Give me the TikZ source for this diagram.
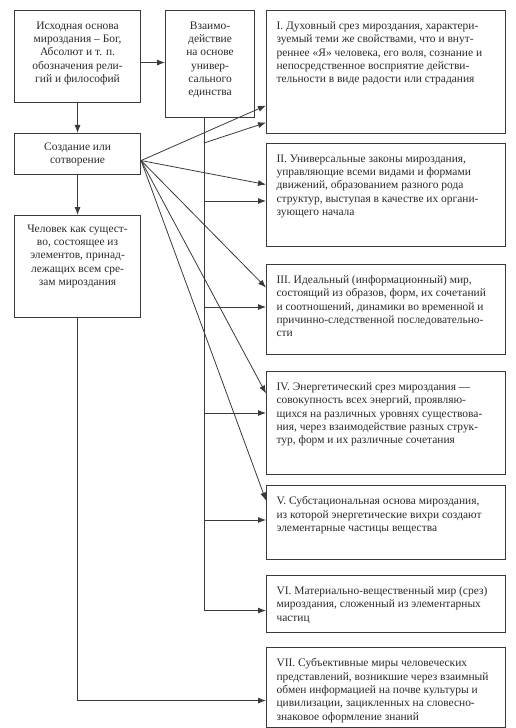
\documentclass[tikz,border=0pt]{standalone}
\usepackage{fontspec}
\setmainfont{Liberation Serif}
\usetikzlibrary{arrows.meta}
\definecolor{ln}{HTML}{3A3A3A}
\definecolor{tx}{HTML}{2A2A2A}
\newcommand\mkbox[8]{%
 \node[rbox] (#1) at (#2,#3) {\begin{minipage}[c][\dimexpr #5bp-#3bp\relax][t]{\dimexpr #4bp-#2bp\relax}\vspace*{#6}\centering\begin{minipage}[t]{\dimexpr #4bp-#2bp-20bp\relax}#7 #8\end{minipage}\end{minipage}};}
\begin{document}
\begin{tikzpicture}[x=1bp,y=-1bp,
  rbox/.style={draw=ln,line width=1.1bp,anchor=north west,inner sep=0pt,text=tx,
     font=\fontsize{11.5}{13.4}\selectfont},
  arr/.style={draw=ln,line width=0.8bp,-{Latex[length=8bp,width=6bp]}},
  ln/.style={draw=ln,line width=0.8bp}]
\useasboundingbox (0,0) rectangle (516,728);
\mkbox{A}{14}{10}{140}{102}{11bp}{\centering}{Исходная основа\\ мироздания – Бог,\\ Абсолют и т. п.\\ обозначения рели-\\ гий и философий}
\mkbox{B}{165}{10}{254}{117}{11bp}{\centering}{Взаимо-\\ действие\\ на основе\\ универ-\\ сального\\ единства}
\mkbox{C}{14}{133}{140}{174}{9bp}{\centering}{Создание или\\ сотворение}
\mkbox{H}{14}{215}{140}{317}{9bp}{\centering}{Человек как сущест-\\ во, состоящее из\\ элементов, принад-\\ лежащих всем сре-\\ зам мироздания}
\mkbox{b1}{266}{10}{505}{133}{11bp}{\raggedright}{I. Духовный срез мироздания, характери-\\ зуемый теми же свойствами, что и внут-\\ реннее «Я» человека, его воля, сознание и\\ непосредственное восприятие действи-\\ тельности в виде радости или страдания}
\mkbox{b2}{266}{143}{505}{246}{11bp}{\raggedright}{II. Универсальные законы мироздания,\\ управляющие всеми видами и формами\\ движений, образованием разного рода\\ структур, выступая в качестве их органи-\\ зующего начала}
\mkbox{b3}{266}{264}{505}{354}{11bp}{\raggedright}{III. Идеальный (информационный) мир,\\ состоящий из образов, форм, их сочетаний\\ и соотношений, динамики во временной и\\ причинно-следственной последовательно-\\ сти}
\mkbox{b4}{266}{371}{505}{474}{11bp}{\raggedright}{IV. Энергетический срез мироздания —\\ совокупность всех энергий, проявляю-\\ щихся на различных уровнях существова-\\ ния, через взаимодействие разных струк-\\ тур, форм и их различные сочетания}
\mkbox{b5}{266}{485}{505}{559}{11bp}{\raggedright}{V. Субстациональная основа мироздания,\\ из которой энергетические вихри создают\\ элементарные частицы вещества}
\mkbox{b6}{266}{575}{505}{632}{11bp}{\raggedright}{VI. Материально-вещественный мир (срез)\\ мироздания, сложенный из элементарных\\ частиц}
\mkbox{b7}{266}{647}{505}{727}{11bp}{\raggedright}{VII. Субъективные миры человеческих\\ представлений, возникшие через взаимный\\ обмен информацией на почве культуры и\\ цивилизации, зацикленных на словесно-\\ знаковое оформление знаний}
% connectors
\coordinate (vx) at (204,0);
\draw[arr] ([yshift=-6bp]A.east) -- ([yshift=-6bp]A.east -| B.west);
\draw[arr] (A.south) -- (C.north);
\draw[arr] (C.south) -- (H.north);
\draw[arr] (H.south) |- ([yshift=-13bp]b7.west);
\draw[arr] (B.south -| vx) |- ([yshift=-6.5bp]b6.west);
\coordinate (h2) at (204,201);
\coordinate (h3) at (204,307);
\coordinate (h4) at (204,413);
\coordinate (h5) at (204,520);
\draw[arr] (h2) -- (h2 -| b2.west);
\draw[arr] (h3) -- (h3 -| b3.west);
\draw[arr] (h4) -- (h4 -| b4.west);
\draw[arr] (h5) -- (h5 -| b5.west);
\coordinate (d1) at (204,143);
\draw[arr] (d1) -- ([yshift=-50.5bp]b1.west);
\coordinate (f) at ([yshift=-6.5bp]C.east);
\draw[arr] (f) -- ([yshift=-33.5bp]b1.west);
\draw[arr] (f) -- ([yshift=10.5bp]b2.west);
\draw[arr] (f) -- ([yshift=22bp]b3.west);
\draw[arr] (f) -- ([yshift=29.5bp]b4.west);
\draw[arr] (f) -- ([yshift=22bp]b5.west);
\end{tikzpicture}
\end{document}
